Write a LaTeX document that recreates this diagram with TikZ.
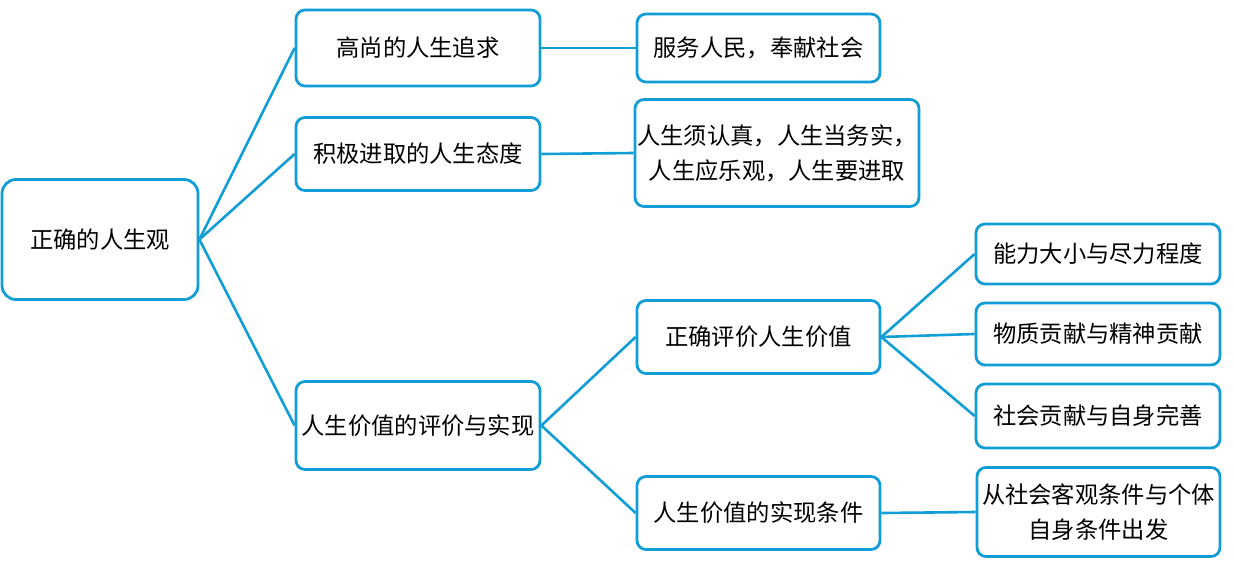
\documentclass[tikz,border=0pt]{standalone}
\usepackage{fontspec}
\setmainfont{Noto Sans CJK SC}
\definecolor{lineblue}{RGB}{17,157,214}
\tikzset{
  box/.style={draw=lineblue, line width=2.8pt, rounded corners=9pt, fill=white,
    align=center, inner sep=0pt, font=\fontsize{23.3}{35}\selectfont},
  link/.style={draw=lineblue, line width=2.6pt}
}
\begin{document}
\begin{tikzpicture}[x=1pt,y=-1pt]
  \useasboundingbox (0,0) rectangle (1234,570);
  % root
  \node[box, rounded corners=14pt, minimum width=196pt, minimum height=120pt] (root) at (100,239.5) {正确的人生观};
  % first level
  \node[box, minimum width=244pt, minimum height=76pt] (aim) at (418,48) {高尚的人生追求};
  \node[box, minimum width=244pt, minimum height=73pt] (attitude) at (418,154) {积极进取的人生态度};
  \node[box, minimum width=244pt, minimum height=88pt] (value) at (418,425.5) {人生价值的评价与实现};
  % second level
  \node[box, minimum width=243pt, minimum height=68pt] (serve) at (758.5,48) {服务人民，奉献社会};
  \node[box, minimum width=284pt, minimum height=107pt] (earnest) at (777,153) {人生须认真，人生当务实，\\人生应乐观，人生要进取};
  \node[box, minimum width=243pt, minimum height=73pt] (judge) at (758.5,337) {正确评价人生价值};
  \node[box, minimum width=243pt, minimum height=73pt] (cond) at (758.5,513) {人生价值的实现条件};
  % third level
  \node[box, minimum width=244pt, minimum height=60pt] (ability) at (1098,254) {能力大小与尽力程度};
  \node[box, minimum width=244pt, minimum height=62pt] (matter) at (1098,334) {物质贡献与精神贡献};
  \node[box, minimum width=244pt, minimum height=64pt] (society) at (1098,416) {社会贡献与自身完善};
  \node[box, minimum width=243pt, minimum height=89pt] (start) at (1098.5,512) {从社会客观条件与个体\\自身条件出发};
  % connectors
  \draw[link] (root.east) -- (aim.west);
  \draw[link] (root.east) -- (attitude.west);
  \draw[link] (root.east) -- (value.west);
  \draw[link] (aim.east) -- (serve.west);
  \draw[link] (attitude.east) -- (earnest.west);
  \draw[link] (value.east) -- (judge.west);
  \draw[link] (value.east) -- (cond.west);
  \draw[link] (judge.east) -- (ability.west);
  \draw[link] (judge.east) -- (matter.west);
  \draw[link] (judge.east) -- (society.west);
  \draw[link] (cond.east) -- (start.west);
\end{tikzpicture}
\end{document}
